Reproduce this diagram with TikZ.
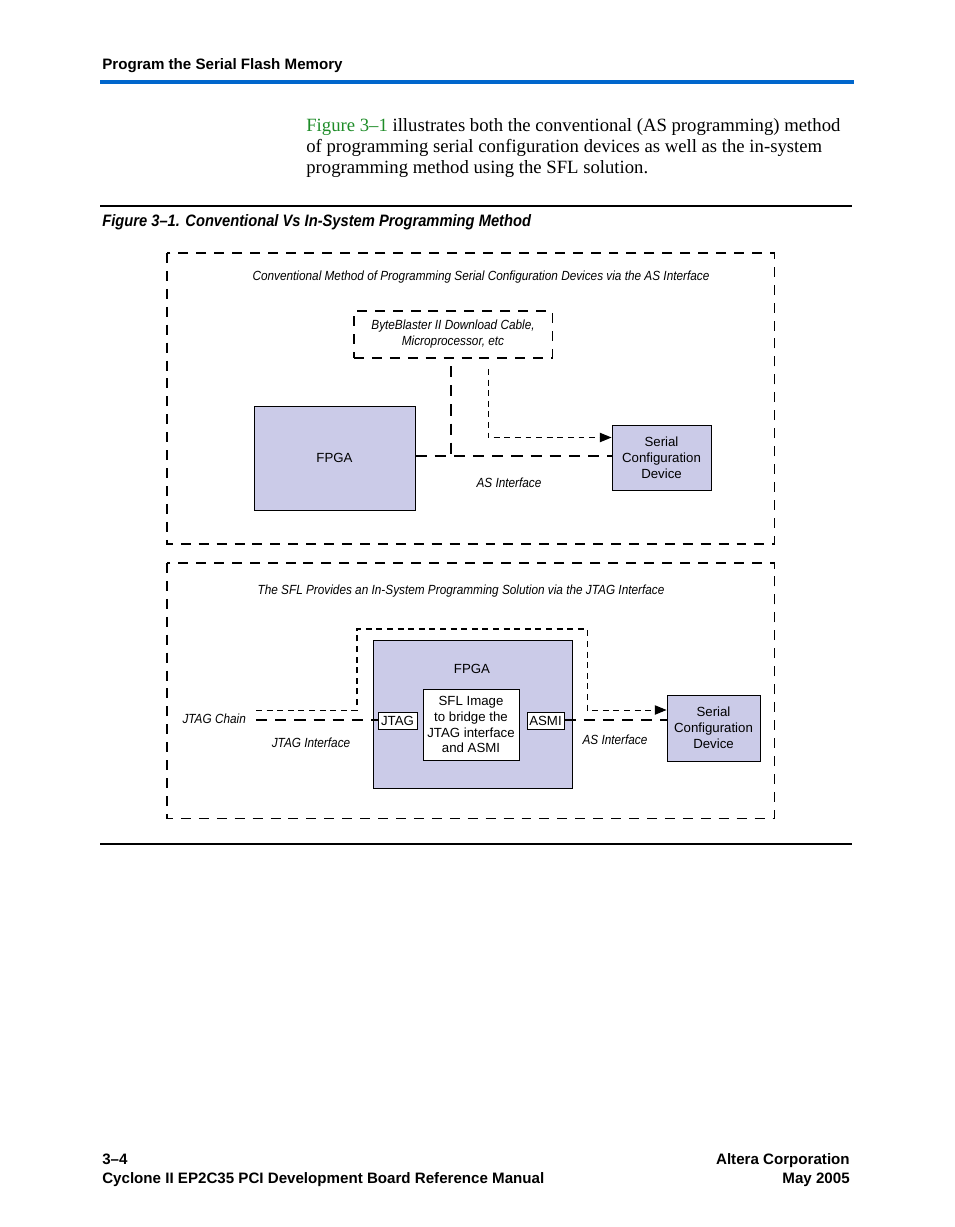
\documentclass[tikz,border=0pt]{standalone}
\usepackage{fontspec}
\setmainfont{Liberation Serif}
\newfontfamily\hvfont[Ligatures=TeX]{Liberation Sans}
\newfontfamily\hvcond[Ligatures=TeX, FakeStretch=0.89]{Liberation Sans}
\usetikzlibrary{positioning, arrows.meta, calc}
\newcommand\pixel{0.6415pt}
\definecolor{fpgafill}{RGB}{203,203,232}
\definecolor{ruleblue}{RGB}{0,102,204}
\definecolor{linkgreen}{RGB}{30,140,40}
\tikzset{
  >={Triangle[length=7.5pt,width=6pt]}, % filled arrow heads
  chip/.style={draw, fill=fpgafill, line width=0.6pt, inner sep=0pt, align=center,
    font=\hvfont\fontsize{8.5}{10.2}\selectfont}, % lavender blocks
  port/.style={draw, fill=white, line width=0.6pt, inner sep=0pt, align=center,
    font=\hvfont\fontsize{8.5}{10.2}\selectfont}, % white blocks inside the FPGA
  note/.style={font=\hvcond\itshape\fontsize{8.5}{10.2}\selectfont, align=center}, % italic labels
  frame/.style={line width=0.65pt, dash pattern=on 6.4pt off 5.1pt}, % outer dashed frames
  thickdash/.style={line width=1.9pt, dash pattern=on 7.2pt off 5.1pt}, % data paths
  thindash/.style={line width=0.65pt, dash pattern=on 3.8pt off 3pt}, % programming paths
}

\begin{document}
\begin{tikzpicture}[x=\pixel, y=-\pixel]
  \useasboundingbox (0,0) rectangle (954,1227);

  % page header and text
  \node[anchor=base west, inner sep=0pt, font=\hvfont\bfseries\fontsize{9.7}{11}\selectfont] (head) at (102,70) {Program the Serial Flash Memory};
  \draw[ruleblue, line width=2.6pt] (100,82) -- (854,82);
  \node[anchor=base west, inner sep=0pt, font=\fontsize{12}{14}\selectfont] (para1) at (306,132) {\textcolor{linkgreen}{Figure 3--1} illustrates both the conventional (AS programming) method};
  \node[anchor=base west, inner sep=0pt, font=\fontsize{12}{14}\selectfont] (para2) at (306,153) {of programming serial configuration devices as well as the in-system};
  \node[anchor=base west, inner sep=0pt, font=\fontsize{12}{14}\selectfont] (para3) at (306,174) {programming method using the SFL solution.};
  \draw[line width=0.7pt] (100,206) -- (852,206);
  \node[anchor=base west, inner sep=0pt, font=\hvcond\bfseries\itshape\fontsize{10.6}{13}\selectfont] (caption) at (102,227) {Figure 3--1. Conventional Vs In-System Programming Method};

  % conventional method
  \draw[frame] (167,253) rectangle (774,544);
  \node[note] (title1) at (481,277) {Conventional Method of Programming Serial Configuration Devices via the AS Interface};
  \node[note, frame, draw, minimum width=198*\pixel, minimum height=47*\pixel] (bb) at (453,334.5) {ByteBlaster II Download Cable,\\Microprocessor, etc};
  \node[chip, minimum width=161*\pixel, minimum height=104*\pixel] (fpga1) at (334.5,458) {FPGA};
  \node[chip, minimum width=99*\pixel, minimum height=65*\pixel] (scd1) at (661.5,457.5) {Serial\\Configuration\\Device};
  \coordinate (bbl) at (451,366);
  \coordinate (bbr) at (488,369);
  \draw[thickdash] (fpga1.east |- 0,456) -- (scd1.west |- 0,456);
  \draw[thickdash] (bbl) -- (bbl |- 0,454);
  \draw[thindash, ->] (bbr) |- ($(scd1.west)+(0,-20)$);
  \node[note] (as1) at (509,483) {AS Interface};

  % in-system method
  \draw[frame] (167,563) rectangle (774,818);
  \node[note] (title2) at (461,591) {The SFL Provides an In-System Programming Solution via the JTAG Interface};
  \node[chip, minimum width=199*\pixel, minimum height=148*\pixel] (fpga2) at (472.5,714) {};
  \node[font=\hvfont\fontsize{8.5}{10.2}\selectfont] (fpgalabel) at (472,669) {FPGA};
  \node[port, minimum width=96*\pixel, minimum height=71*\pixel] (sfl) at (471,724.5) {SFL Image\\to bridge the\\JTAG interface\\and ASMI};
  \node[port, minimum width=39*\pixel, minimum height=17*\pixel] (jtag) at (397.5,720.5) {JTAG};
  \node[port, minimum width=37*\pixel, minimum height=17*\pixel] (asmi) at (545.5,720.5) {ASMI};
  \node[chip, minimum width=93*\pixel, minimum height=66*\pixel] (scd2) at (713.5,728) {Serial\\Configuration\\Device};
  \node[note, anchor=west] (chain) at (177,719) {JTAG Chain};
  \coordinate (jstart) at (256,720);
  \coordinate (tstart) at (256,710);
  \coordinate (tup) at (357,629);
  \coordinate (tdown) at (587,710);
  \draw[thickdash] (jstart) -- (jtag.west |- jstart);
  \draw[thickdash] (asmi.east |- jstart) -- (scd2.west |- jstart);
  \draw[thindash, ->] (tstart) -| (tup) -| (tdown) -- (scd2.west |- tdown);
  \node[note] (jtagif) at (311,743) {JTAG Interface};
  \node[note] (as2) at (615,740) {AS Interface};

  % bottom rule and footer
  \draw[line width=0.7pt] (100,844) -- (852,844);
  \node[anchor=base west, inner sep=0pt, font=\hvfont\bfseries\fontsize{9.7}{11}\selectfont] (page) at (102,1164) {3--4};
  \node[anchor=base west, inner sep=0pt, font=\hvfont\bfseries\fontsize{9.7}{11}\selectfont] (manual) at (102,1183) {Cyclone II EP2C35 PCI Development Board Reference Manual};
  \node[anchor=base east, inner sep=0pt, font=\hvfont\bfseries\fontsize{9.7}{11}\selectfont] (corp) at (850,1164) {Altera Corporation};
  \node[anchor=base east, inner sep=0pt, font=\hvfont\bfseries\fontsize{9.7}{11}\selectfont] (date) at (850,1183) {May 2005};
\end{tikzpicture}
\end{document}
